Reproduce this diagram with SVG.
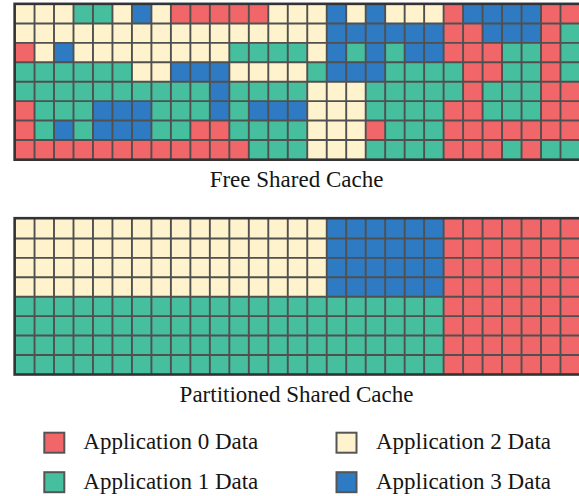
<svg xmlns="http://www.w3.org/2000/svg" width="579" height="496" viewBox="0 0 579 496">
<style>
.R{fill:#F16669}.G{fill:#46BF9F}.B{fill:#2F7BC3}.Y{fill:#FFF3CE}
.gl{fill:none;stroke:#505050;stroke-width:1.9}
.frame{fill:none;stroke:#333;stroke-width:2.6}
.cap{font-family:"Liberation Serif","Times New Roman",serif;font-size:23px;fill:#151515}
.key{stroke:#555;stroke-width:2}
</style>
<rect width="579" height="496" fill="#fff"/>
<g id="free-cache">
<g transform="translate(15.05 4.05) scale(19.48 19.42)">
<rect class="Y" x="0" y="0" width="3" height="1"/><rect class="G" x="3" y="0" width="2" height="1"/><rect class="Y" x="5" y="0" width="1" height="1"/><rect class="B" x="6" y="0" width="1" height="1"/><rect class="Y" x="7" y="0" width="1" height="1"/><rect class="R" x="8" y="0" width="5" height="1"/><rect class="Y" x="13" y="0" width="3" height="1"/><rect class="B" x="16" y="0" width="1" height="1"/><rect class="Y" x="17" y="0" width="1" height="1"/><rect class="B" x="18" y="0" width="1" height="1"/><rect class="Y" x="19" y="0" width="3" height="1"/><rect class="R" x="22" y="0" width="1" height="1"/><rect class="B" x="23" y="0" width="4" height="1"/><rect class="R" x="27" y="0" width="2" height="1"/>
<rect class="Y" x="0" y="1" width="16" height="1"/><rect class="B" x="16" y="1" width="6" height="1"/><rect class="R" x="22" y="1" width="2" height="1"/><rect class="B" x="24" y="1" width="3" height="1"/><rect class="R" x="27" y="1" width="1" height="1"/><rect class="G" x="28" y="1" width="1" height="1"/>
<rect class="R" x="0" y="2" width="1" height="1"/><rect class="Y" x="1" y="2" width="1" height="1"/><rect class="B" x="2" y="2" width="1" height="1"/><rect class="Y" x="3" y="2" width="8" height="1"/><rect class="G" x="11" y="2" width="4" height="1"/><rect class="Y" x="15" y="2" width="1" height="1"/><rect class="B" x="16" y="2" width="1" height="1"/><rect class="G" x="17" y="2" width="1" height="1"/><rect class="B" x="18" y="2" width="1" height="1"/><rect class="G" x="19" y="2" width="1" height="1"/><rect class="B" x="20" y="2" width="2" height="1"/><rect class="R" x="22" y="2" width="3" height="1"/><rect class="G" x="25" y="2" width="2" height="1"/><rect class="R" x="27" y="2" width="1" height="1"/><rect class="G" x="28" y="2" width="1" height="1"/>
<rect class="G" x="0" y="3" width="6" height="1"/><rect class="Y" x="6" y="3" width="2" height="1"/><rect class="B" x="8" y="3" width="3" height="1"/><rect class="Y" x="11" y="3" width="4" height="1"/><rect class="G" x="15" y="3" width="1" height="1"/><rect class="B" x="16" y="3" width="3" height="1"/><rect class="G" x="19" y="3" width="4" height="1"/><rect class="R" x="23" y="3" width="2" height="1"/><rect class="G" x="25" y="3" width="2" height="1"/><rect class="R" x="27" y="3" width="1" height="1"/><rect class="G" x="28" y="3" width="1" height="1"/>
<rect class="G" x="0" y="4" width="10" height="1"/><rect class="B" x="10" y="4" width="1" height="1"/><rect class="G" x="11" y="4" width="4" height="1"/><rect class="Y" x="15" y="4" width="3" height="1"/><rect class="G" x="18" y="4" width="5" height="1"/><rect class="R" x="23" y="4" width="1" height="1"/><rect class="G" x="24" y="4" width="3" height="1"/><rect class="R" x="27" y="4" width="2" height="1"/>
<rect class="R" x="0" y="5" width="1" height="1"/><rect class="G" x="1" y="5" width="3" height="1"/><rect class="B" x="4" y="5" width="3" height="1"/><rect class="G" x="7" y="5" width="3" height="1"/><rect class="B" x="10" y="5" width="1" height="1"/><rect class="G" x="11" y="5" width="1" height="1"/><rect class="B" x="12" y="5" width="3" height="1"/><rect class="Y" x="15" y="5" width="3" height="1"/><rect class="G" x="18" y="5" width="4" height="1"/><rect class="R" x="22" y="5" width="2" height="1"/><rect class="G" x="24" y="5" width="3" height="1"/><rect class="R" x="27" y="5" width="2" height="1"/>
<rect class="R" x="0" y="6" width="1" height="1"/><rect class="G" x="1" y="6" width="1" height="1"/><rect class="B" x="2" y="6" width="1" height="1"/><rect class="G" x="3" y="6" width="1" height="1"/><rect class="B" x="4" y="6" width="3" height="1"/><rect class="G" x="7" y="6" width="2" height="1"/><rect class="R" x="9" y="6" width="2" height="1"/><rect class="G" x="11" y="6" width="4" height="1"/><rect class="Y" x="15" y="6" width="3" height="1"/><rect class="R" x="18" y="6" width="1" height="1"/><rect class="G" x="19" y="6" width="3" height="1"/><rect class="R" x="22" y="6" width="7" height="1"/>
<rect class="R" x="0" y="7" width="12" height="1"/><rect class="G" x="12" y="7" width="3" height="1"/><rect class="Y" x="15" y="7" width="3" height="1"/><rect class="G" x="18" y="7" width="4" height="1"/><rect class="R" x="22" y="7" width="3" height="1"/><rect class="G" x="25" y="7" width="1" height="1"/><rect class="R" x="26" y="7" width="1" height="1"/><rect class="G" x="27" y="7" width="2" height="1"/>
<path class="gl" vector-effect="non-scaling-stroke" d="M1 0V8M2 0V8M3 0V8M4 0V8M5 0V8M6 0V8M7 0V8M8 0V8M9 0V8M10 0V8M11 0V8M12 0V8M13 0V8M14 0V8M15 0V8M16 0V8M17 0V8M18 0V8M19 0V8M20 0V8M21 0V8M22 0V8M23 0V8M24 0V8M25 0V8M26 0V8M27 0V8M28 0V8M29 0V8M0 1H29M0 2H29M0 3H29M0 4H29M0 5H29M0 6H29M0 7H29"/>
</g>
<rect class="frame" x="14.65" y="3.85" width="572" height="155.85"/>
</g>
<text class="cap" x="296.5" y="186.7" text-anchor="middle">Free Shared Cache</text>
<g id="partitioned-cache">
<g transform="translate(15.05 219.05) scale(19.48 19.42)">
<rect class="Y" x="0" y="0" width="16" height="4"/><rect class="B" x="16" y="0" width="6" height="4"/><rect class="G" x="0" y="4" width="22" height="4"/><rect class="R" x="22" y="0" width="7" height="8"/>
<path class="gl" vector-effect="non-scaling-stroke" d="M1 0V8M2 0V8M3 0V8M4 0V8M5 0V8M6 0V8M7 0V8M8 0V8M9 0V8M10 0V8M11 0V8M12 0V8M13 0V8M14 0V8M15 0V8M16 0V8M17 0V8M18 0V8M19 0V8M20 0V8M21 0V8M22 0V8M23 0V8M24 0V8M25 0V8M26 0V8M27 0V8M28 0V8M29 0V8M0 1H29M0 2H29M0 3H29M0 4H29M0 5H29M0 6H29M0 7H29"/>
</g>
<rect class="frame" x="14.65" y="218.2" width="572" height="156.3"/>
</g>
<text class="cap" x="296.5" y="401.7" text-anchor="middle">Partitioned Shared Cache</text>
<g id="legend-app0"><rect class="key R" x="44.3" y="432.7" width="20" height="20"/><text class="cap" x="83.3" y="449">Application 0 Data</text></g>
<g id="legend-app1"><rect class="key G" x="44.3" y="472.2" width="20" height="20"/><text class="cap" x="83.3" y="489">Application 1 Data</text></g>
<g id="legend-app2"><rect class="key Y" x="336.5" y="432.7" width="20" height="20"/><text class="cap" x="376" y="449">Application 2 Data</text></g>
<g id="legend-app3"><rect class="key B" x="336.5" y="472.2" width="20" height="20"/><text class="cap" x="376" y="489">Application 3 Data</text></g>
</svg>
